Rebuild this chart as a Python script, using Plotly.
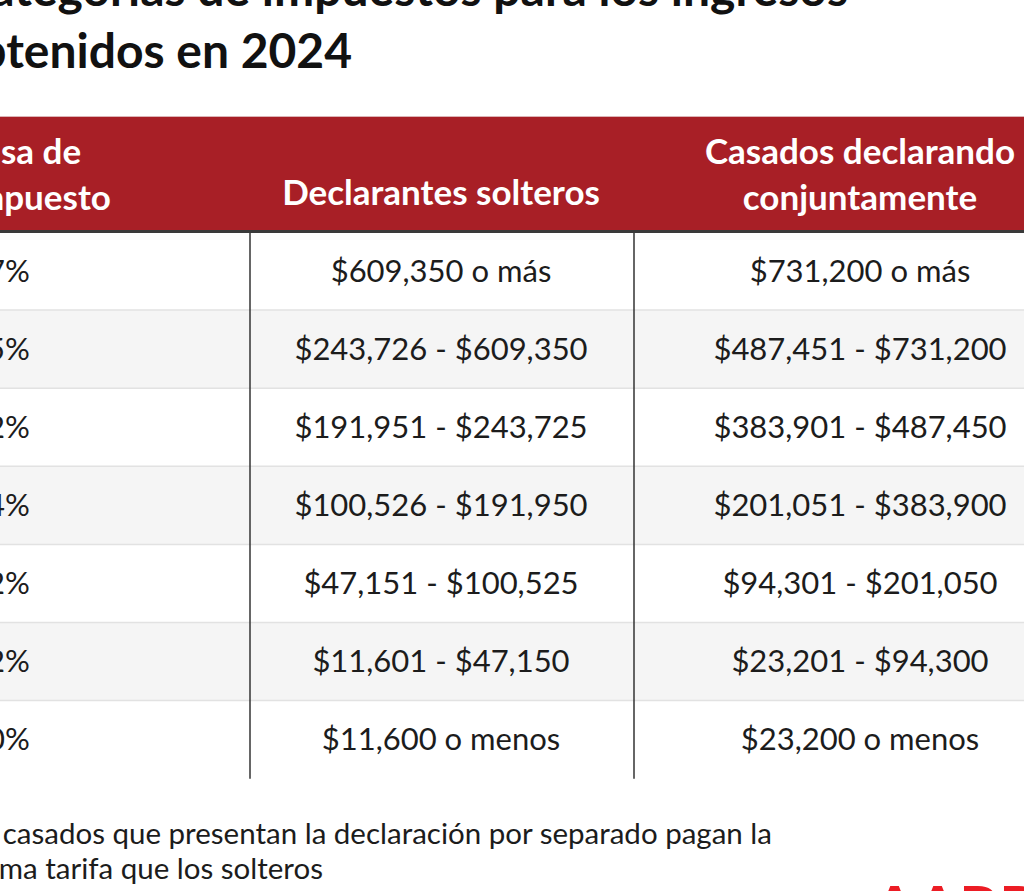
import plotly.graph_objects as go

# table content
rates = ["37%", "35%", "32%", "24%", "22%", "12%", "10%"]
single = ["$609,350 o más", "$243,726 - $609,350", "$191,951 - $243,725",
          "$100,526 - $191,950", "$47,151 - $100,525", "$11,601 - $47,150",
          "$11,600 o menos"]
joint = ["$731,200 o más", "$487,451 - $731,200", "$383,901 - $487,450",
         "$201,051 - $383,900", "$94,301 - $201,050", "$23,201 - $94,300",
         "$23,200 o menos"]
headers = ["Tasa de<br>impuesto", "Declarantes solteros",
           "Casados declarando<br>conjuntamente"]
title_lines = ["Categorías de impuestos para los ingresos", "obtenidos en 2024"]
note_lines = ["Los casados que presentan la declaración por separado pagan la",
              "misma tarifa que los solteros"]

W, H = 1024, 891
RED = "#a81f26"
INK = "#1c1c1c"
FONT = "Lato"

# geometry (pixels, the view is cropped on the left and top)
head_top, head_bot = 117, 231
row_top, row_h = 232, 78.1
col_div = [250, 634]
col_mid = [441, 860]

fig = go.Figure()

shapes = []
shapes.append(dict(type="rect", x0=-100, x1=W + 100, y0=head_top, y1=head_bot,
                   fillcolor=RED, line_width=0, layer="below"))
shapes.append(dict(type="line", x0=-100, x1=W + 100, y0=head_top - 0.5, y1=head_top - 0.5,
                   line=dict(color="#dcb4b6", width=1)))
for i in range(len(rates)):
    y0 = row_top + i * row_h
    fill = "#f5f5f5" if i % 2 else "#ffffff"
    shapes.append(dict(type="rect", x0=-100, x1=W + 100, y0=y0, y1=y0 + row_h,
                       fillcolor=fill, line_width=0, layer="below"))
    if i > 0:
        shapes.append(dict(type="line", x0=-100, x1=W + 100, y0=y0, y1=y0,
                           line=dict(color="#e2e2e2", width=1.5), layer="below"))
table_end = row_top + len(rates) * row_h
for x in col_div:
    shapes.append(dict(type="line", x0=x, x1=x, y0=row_top, y1=table_end,
                       line=dict(color="#333333", width=1.5)))
shapes.append(dict(type="line", x0=-100, x1=W + 100, y0=head_bot + 0.5, y1=head_bot + 0.5,
                   line=dict(color="#3a3a3a", width=3)))

# header text
head_mid = (head_top + head_bot) / 2 + 4
head_font = dict(family=FONT, size=35, color="white", weight="bold")
fig.add_trace(go.Scatter(x=[-34], y=[head_mid], mode="text",
                         text=[headers[0]], textposition="middle right", textfont=head_font))
fig.add_trace(go.Scatter(x=col_mid, y=[head_mid + 18, head_mid],
                         mode="text", text=headers[1:], textposition="middle center",
                         textfont=head_font))

# body text
row_mid = [row_top + (i + 0.5) * row_h + 3 for i in range(len(rates))]
body_font = dict(family=FONT, size=31, color=INK)
fig.add_trace(go.Scatter(x=[-31] * len(rates), y=row_mid, mode="text", text=rates,
                         textposition="middle right", textfont=body_font))
fig.add_trace(go.Scatter(x=[col_mid[0]] * len(single), y=row_mid, mode="text", text=single,
                         textposition="middle center", textfont=body_font))
fig.add_trace(go.Scatter(x=[col_mid[1]] * len(joint), y=row_mid, mode="text", text=joint,
                         textposition="middle center", textfont=body_font))

# title and footnote, right aligned so the visible part lines up
fig.add_trace(go.Scatter(x=[848, 352], y=[-6, 56], mode="text", text=title_lines,
                         textposition="middle left",
                         textfont=dict(family=FONT, size=48, color="#111111", weight="bold")))
fig.add_trace(go.Scatter(x=[772, 323], y=[837, 872], mode="text", text=note_lines,
                         textposition="middle left",
                         textfont=dict(family=FONT, size=29.5, color=INK)))
fig.add_trace(go.Scatter(x=[873], y=[914], mode="text", text=["AARP"],
                         textposition="middle right",
                         textfont=dict(family=FONT, size=62, color="#ec1c24", weight="bold")))

fig.update_layout(
    width=W, height=H,
    margin=dict(l=0, r=0, t=0, b=0),
    plot_bgcolor="white", paper_bgcolor="white",
    showlegend=False,
    shapes=shapes,
    xaxis=dict(range=[0, W], visible=False, fixedrange=True),
    yaxis=dict(range=[H, 0], visible=False, fixedrange=True),
)
fig.write_html("out.html", config={"displayModeBar": False},
               post_script="document.body.style.margin='0';document.body.style.overflow='hidden';")
